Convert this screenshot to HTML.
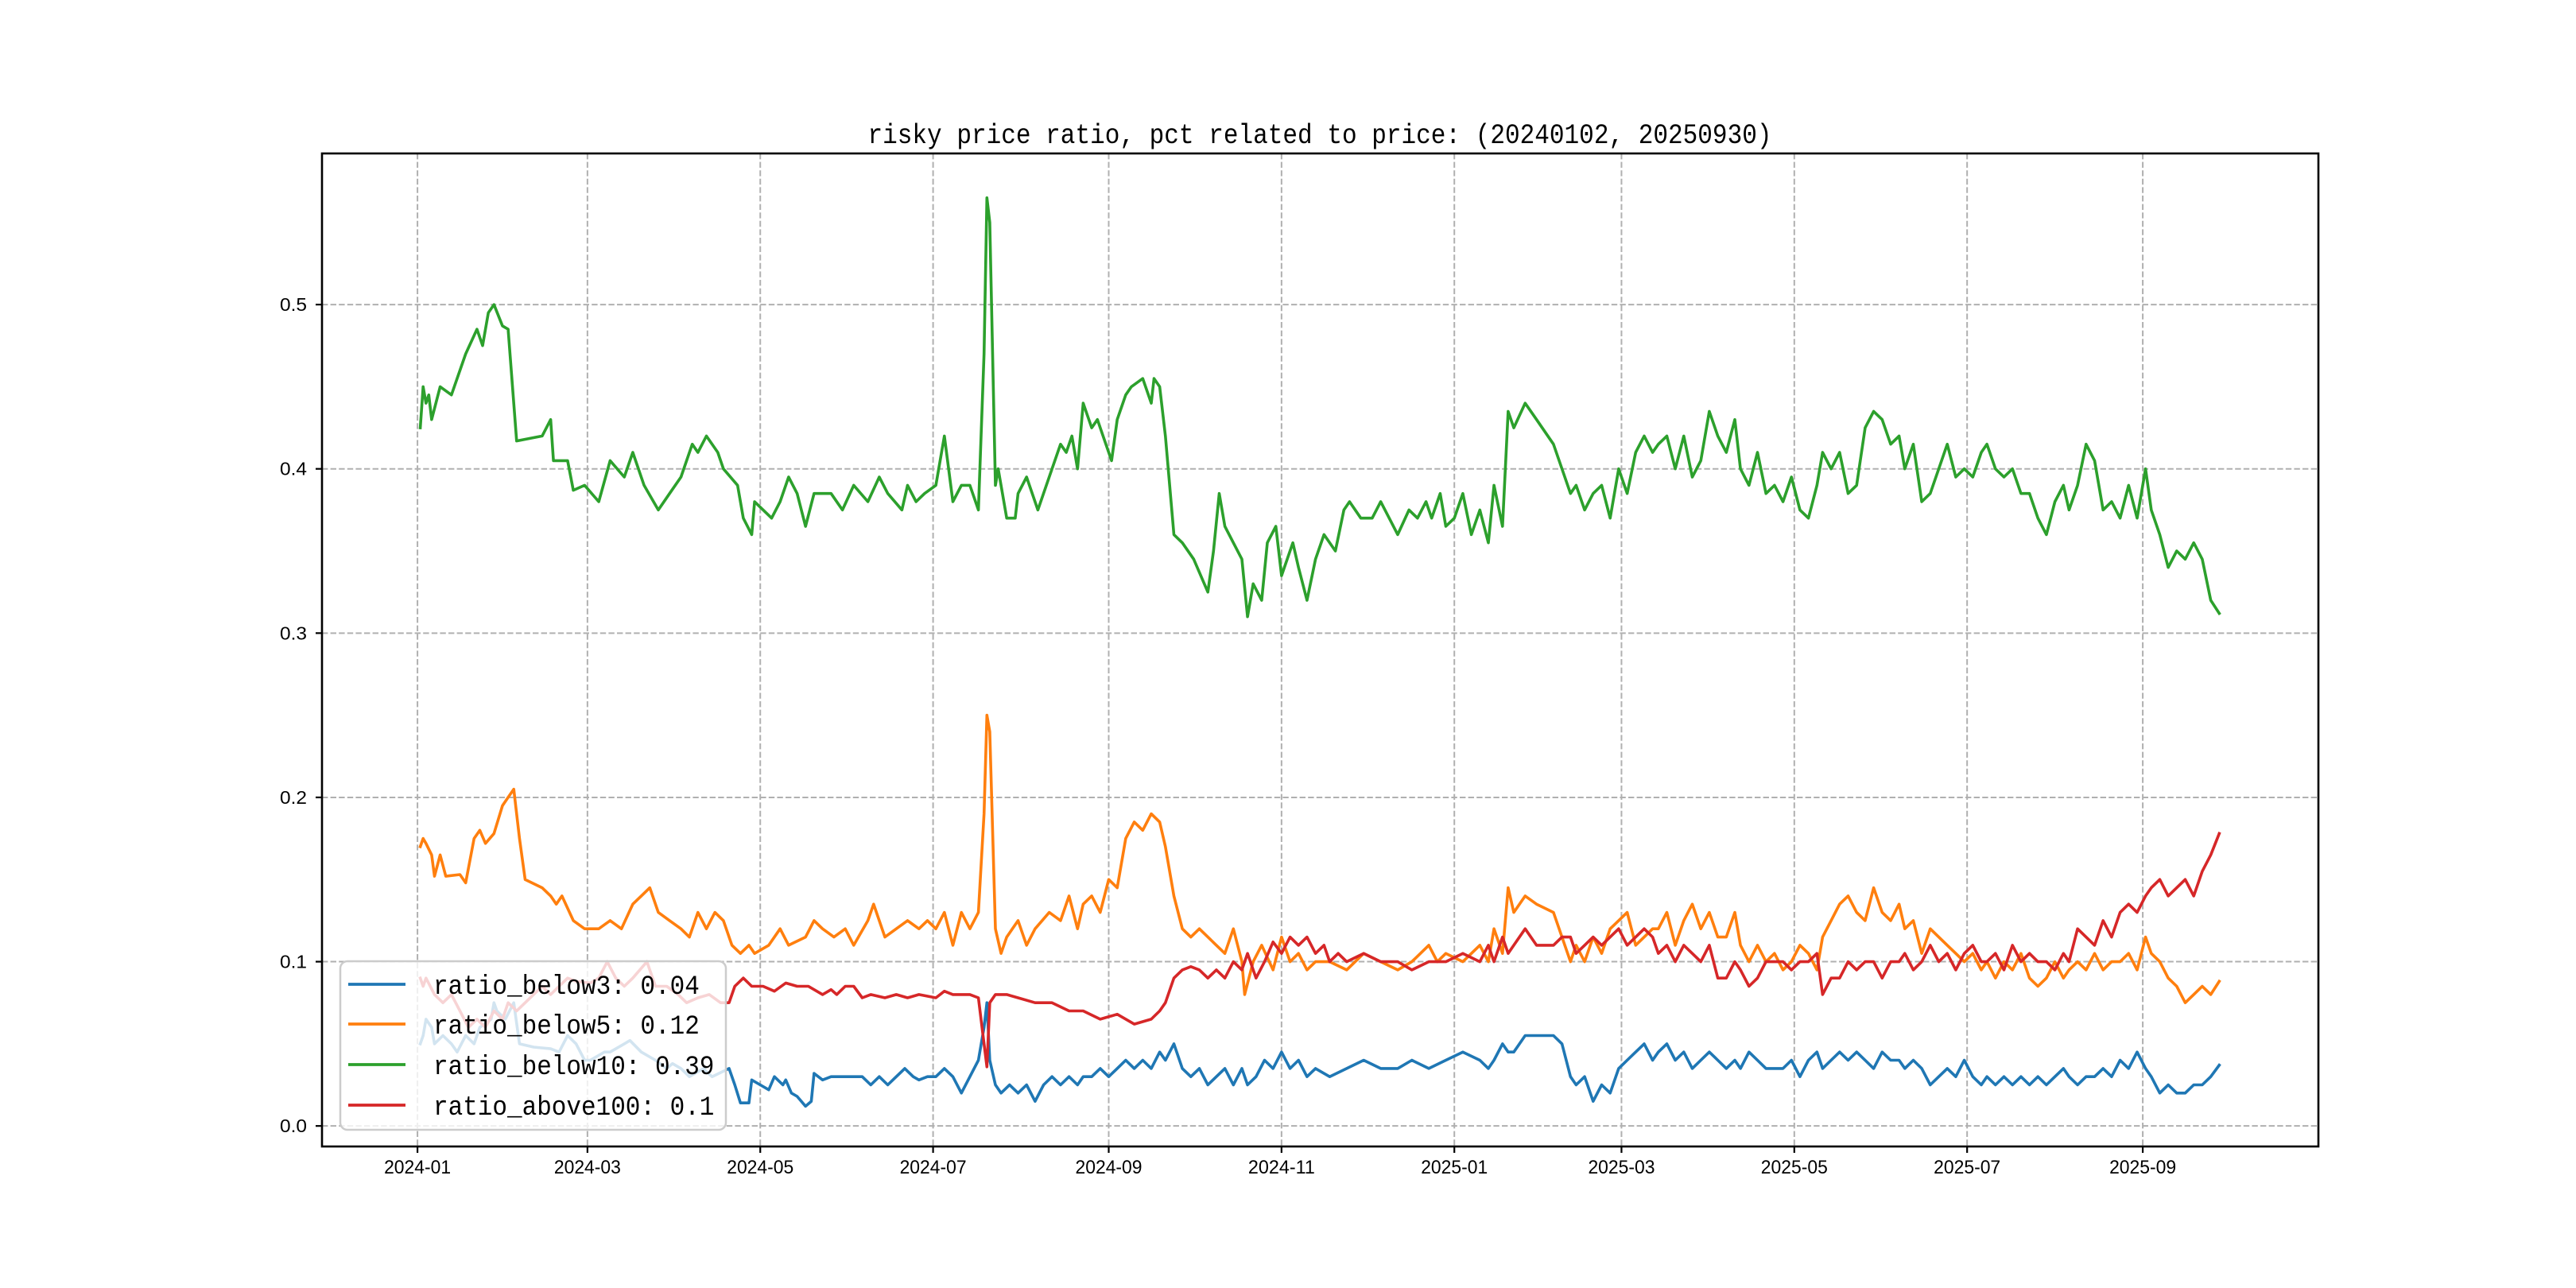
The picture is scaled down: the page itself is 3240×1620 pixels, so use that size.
<!DOCTYPE html>
<html><head><meta charset="utf-8"><title>risky price ratio</title>
<style>html,body{margin:0;padding:0;background:#fff}svg{display:block}</style></head>
<body>
<svg id="chart" xmlns="http://www.w3.org/2000/svg" width="3240" height="1620" viewBox="0 0 3240 1620">
<rect x="0" y="0" width="3240" height="1620" fill="#fff"/>
<g id="grid"></g>
<g id="series"></g>
<rect x="405" y="193" width="2511" height="1249" fill="none" stroke="#000" stroke-width="2.6"/>
<g id="ticks"></g>
<text x="1660" y="180" text-anchor="middle" font-family="Liberation Mono, monospace" font-size="35" textLength="1137" lengthAdjust="spacingAndGlyphs">risky price ratio, pct related to price: (20240102, 20250930)</text>
<g id="legend"></g>
</svg>
<script>
const seriesNames=["ratio_below3: 0.04","ratio_below5: 0.12","ratio_below10: 0.39","ratio_above100: 0.1"];
const seriesColors=["#1f77b4","#ff7f0e","#2ca02c","#d62728"];
const yTicks=[0.0,0.1,0.2,0.3,0.4,0.5];
const yTickLabels=["0.0","0.1","0.2","0.3","0.4","0.5"];
const xTickLabels=["2024-01","2024-03","2024-05","2024-07","2024-09","2024-11","2025-01","2025-03","2025-05","2025-07","2025-09"];
// days since 2024-01-01, shared late grid
const lateDays=[421,424,427,430,433,436,438,441,444,447,450,453,456,459,462,465,467,470,473,476,479,482,485,488,491,494,496,499,502,505,508,511,514,517,520,523,525,528,531,534,537,540,543,546,549,552,554,557,560,563,566,569,572,575,578,581,583,586,589,592,595,598,601,604,607,610,612,615,618,621,624,627,630,633,636];
const greenDays=[1,2,3,4,5,8,12,17,21,23, 25,27,30,32,35,44,47,48,53,55, 59,64,68,73,76,80,85,89,93,97, 99,102,106,108,113,115,118,119,125,128, 131,134,137,140,146,150,154,159,163,166, 171,173,176,179,183,186,189,192,195,198, 200,201,202,204,205,208,211,212,215,219, 224,227,229,231,233,235,238,240,242,245, 247,250,252,256,259,260,262,264,267,270, 274,279,281,283,285,288,291,293,295,298, 300,303,305,309,311,314,317,320,324,327, 329,333,337,340,343,346,350,353,356,358, 361,363,366,369,372,375,378,380,383,385, 387,391,395,401,404,407,409,412,415,418];
const greenEarly=[.425,.45,.44,.445,.43,.45,.445,.47,.485,.475, .495,.50,.487,.485,.417,.42,.43,.405,.405,.387, .39,.38,.405,.395,.41,.39,.375,.385,.395,.415, .41,.42,.41,.40,.39,.37,.36,.38,.37,.38, .395,.385,.365,.385,.385,.375,.39,.38,.395,.385, .375,.39,.38,.385,.39,.42,.38,.39,.39,.375, .47,.565,.55,.39,.40,.37,.37,.385,.395,.375, .40,.415,.41,.42,.40,.44,.425,.43,.42,.405, .43,.445,.45,.455,.44,.455,.45,.42,.36,.355, .345,.325,.35,.385,.365,.355,.345,.31,.33,.32, .355,.365,.335,.355,.34,.32,.345,.36,.35,.375, .38,.37,.37,.38,.37,.36,.375,.37,.38,.37, .385,.365,.37,.385,.36,.375,.355,.39,.365,.435, .425,.44,.43,.415,.40,.385,.39,.375,.385,.39];
const greenLate=[.37,.40,.385,.41,.42,.41,.415,.42,.40,.42, .395,.405,.435,.42,.41,.43,.40,.39,.41,.385, .39,.38,.395,.375,.37,.39,.41,.40,.41,.385, .39,.425,.435,.43,.415,.42,.40,.415,.38,.385, .40,.415,.395,.40,.395,.41,.415,.40,.395,.40, .385,.385,.37,.36,.38,.39,.375,.39,.415,.405, .375,.38,.37,.39,.37,.40,.375,.36,.34,.35, .345,.355,.345,.32,.312];
const orangeDays=[1,2,3,5,6,8,10,15,17,20, 22,24,27,30,32,34,36,38,44,47, 49,51,55,59,64,68,72,76,79,82, 85,89,93,96,99,102,105,108,111,114, 117,119,124,128,131,137,140,143,147,151, 154,159,161,165,169,173,177,180,183,186, 189,192,195,198,200,201,202,204,206,208, 212,215,218,223,227,230,233,235,238,241, 244,247,250,253,256,259,262,264,267,270, 273,276,282,285,288,291,292,295,298,302, 305,308,311,314,317,322,328,334,340,346, 351,357,360,363,369,375,378,380,383,385, 387,391,395,401,404,407,409,412,415,418];
const orangeEarly=[.17,.175,.172,.165,.152,.165,.152,.153,.148,.175, .18,.172,.178,.195,.2,.205,.175,.15,.145,.14, .135,.14,.125,.12,.12,.125,.12,.135,.14,.145, .13,.125,.12,.115,.13,.12,.13,.125,.11,.105, .11,.105,.11,.12,.11,.115,.125,.12,.115,.12, .11,.125,.135,.115,.12,.125,.12,.125,.12,.13, .11,.13,.12,.13,.19,.25,.24,.12,.105,.115, .125,.11,.12,.13,.125,.14,.12,.135,.14,.13, .15,.145,.175,.185,.18,.19,.185,.17,.14,.12, .115,.12,.11,.105,.12,.1,.08,.1,.11,.095, .115,.1,.105,.095,.1,.1,.095,.105,.1,.095, .1,.11,.1,.105,.1,.11,.1,.12,.105,.145, .13,.14,.135,.13,.115,.1,.11,.1,.115,.105];
const orangeLate=[.12,.125,.13,.11,.115,.12,.12,.13,.11,.125, .135,.12,.13,.115,.115,.13,.11,.1,.11,.1, .105,.095,.1,.11,.105,.095,.115,.125,.135,.14, .13,.125,.145,.13,.125,.135,.12,.125,.105,.12, .115,.11,.105,.1,.105,.095,.1,.09,.1,.095, .105,.09,.085,.09,.1,.09,.095,.1,.095,.105, .095,.1,.1,.105,.095,.115,.105,.1,.09,.085, .075,.08,.085,.08,.088];
const redDays=[1,2,3,6,9,12,15,18,21,24, 27,30,32,35,38,44,47,50,53,56, 61,64,67,70,73,76,81,84,88,92, 95,99,103,107,110,112,115,118,122,126, 130,134,138,143,146,148,151,154,157,160, 165,169,173,177,183,186,189,195,198,200, 201,202,204,208,212,218,224,230,235,241, 247,253,259,262,264,267,270,273,276,279, 282,285,288,291,293,296,299,302,305,308, 311,314,317,320,322,325,328,334,340,346, 351,357,363,369,375,378,380,383,385,387, 391,395,401,404,407,409,412,415,418];
const redEarly=[.09,.085,.09,.08,.075,.08,.07,.06,.065,.06, .07,.065,.075,.07,.075,.085,.08,.085,.09,.088, .087,.09,.1,.09,.085,.09,.1,.085,.085,.08, .075,.078,.08,.075,.075,.085,.09,.085,.085,.082, .087,.085,.085,.08,.083,.08,.085,.085,.078,.08, .078,.08,.078,.08,.078,.082,.08,.08,.078,.05, .036,.075,.08,.08,.078,.075,.075,.07,.07,.065, .068,.062,.065,.07,.075,.09,.095,.097,.095,.09, .095,.09,.1,.095,.105,.09,.1,.112,.105,.115, .11,.115,.105,.11,.1,.105,.1,.105,.1,.1, .095,.1,.1,.105,.1,.11,.1,.115,.105,.11, .12,.11,.11,.115,.115,.105,.11,.115,.11];
const redLate=[.115,.12,.11,.115,.12,.115,.105,.11,.1,.11, .105,.1,.11,.09,.09,.1,.095,.085,.09,.1, .1,.1,.095,.1,.1,.105,.08,.09,.09,.1, .095,.1,.1,.09,.1,.1,.105,.095,.1,.11, .1,.105,.095,.105,.11,.1,.1,.105,.095,.11, .1,.105,.1,.1,.095,.105,.1,.12,.115,.11, .125,.115,.13,.135,.13,.14,.145,.15,.14,.145, .15,.14,.155,.165,.178];
const blueDays=[1,2,3,5,6,9,12,14,17,20, 22,26,27,28,31,34,36,41,47,50, 53,56,59,61,66,68,73,75,79,84, 88,90,93,96,99,101,102,104,110,112, 114,117,118,121,124,126,129,130,132,134, 137,139,140,143,146,150,154,157,160,163, 166,169,172,175,177,180,183,186,189,192, 195,198,200,201,202,204,206,209,212,215, 218,221,224,227,230,233,235,238,241,244, 247,250,253,256,259,262,264,267,270,273, 276,279,282,285,288,291,293,296,299,302, 305,308,311,314,317,322,328,334,340,346, 351,357,363,369,375,378,380,383,385,387, 391,395,401,404,407,409,412,415,418];
const blueEarly=[.05,.055,.065,.06,.05,.055,.05,.045,.055,.05, .06,.065,.075,.07,.065,.075,.05,.048,.047,.045, .055,.05,.04,.04,.045,.045,.05,.052,.045,.04, .035,.038,.035,.03,.033,.035,.033,.03,.035,.025, .014,.014,.028,.025,.022,.03,.025,.028,.02,.018, .012,.015,.032,.028,.03,.03,.03,.03,.025,.03, .025,.03,.035,.03,.028,.03,.03,.035,.03,.02, .03,.04,.06,.075,.04,.025,.02,.025,.02,.025, .015,.025,.03,.025,.03,.025,.03,.03,.035,.03, .035,.04,.035,.04,.035,.045,.04,.05,.035,.03, .035,.025,.03,.035,.025,.035,.025,.03,.04,.035, .045,.035,.04,.03,.035,.03,.035,.04,.035,.035, .04,.035,.04,.045,.04,.035,.04,.05,.045,.045, .055,.055,.055,.05,.03,.025,.03,.015,.025];
const blueLate=[.02,.035,.04,.045,.05,.04,.045,.05,.04,.045, .035,.04,.045,.04,.035,.04,.035,.045,.04,.035, .035,.035,.04,.03,.04,.045,.035,.04,.045,.04, .045,.04,.035,.045,.04,.04,.035,.04,.035,.025, .03,.035,.03,.04,.03,.025,.03,.025,.03,.025, .03,.025,.03,.025,.03,.035,.03,.025,.03,.03, .035,.03,.04,.035,.045,.035,.03,.02,.025,.02, .02,.025,.025,.03,.037];

const NS="http://www.w3.org/2000/svg";
const L=405,R=2916,T=193,B=1442;
const dMin=-33.7,dMax=671;
const vMin=-0.0125,vMax=0.592;
function xs(d){return L+(d-dMin)/(dMax-dMin)*(R-L);}
function ys(v){return B-(v-vMin)/(vMax-vMin)*(B-T);}
function dayOf(s){const p=s.split("-");return (Date.UTC(+p[0],+p[1]-1,1)-Date.UTC(2024,0,1))/86400000;}
function mk(tag,attrs,parent){const e=document.createElementNS(NS,tag);for(const k in attrs)e.setAttribute(k,attrs[k]);parent.appendChild(e);return e;}
const grid=document.getElementById("grid"),ticks=document.getElementById("ticks"),sg=document.getElementById("series"),lg=document.getElementById("legend");
xTickLabels.forEach(function(lab){
  const x=xs(dayOf(lab));
  const g=mk("line",{x1:x,x2:x,y1:T,y2:B,stroke:"#b0b0b0","stroke-width":2,"stroke-dasharray":"7.4,3.2"},grid);
  
  
  const t=mk("line",{x1:x,x2:x,y1:B,y2:B+8,stroke:"#000","stroke-width":2.2},ticks);
  
  
  const tx=mk("text",{x:x,y:B+34,"text-anchor":"middle","font-family":"Liberation Sans, sans-serif","font-size":24,textLength:84,lengthAdjust:"spacingAndGlyphs"},ticks);
  tx.textContent=lab;
  
  
});
yTicks.forEach(function(v,i){
  const y=ys(v);
  const g=mk("line",{x1:L,x2:R,y1:y,y2:y,stroke:"#b0b0b0","stroke-width":2,"stroke-dasharray":"7.4,3.2"},grid);
  
  
  const t=mk("line",{x1:L-8,x2:L,y1:y,y2:y,stroke:"#000","stroke-width":2.2},ticks);
  
  
  const tx=mk("text",{x:L-19,y:y+8,"text-anchor":"end","font-family":"Liberation Sans, sans-serif","font-size":23,textLength:34,lengthAdjust:"spacingAndGlyphs"},ticks);
  tx.textContent=yTickLabels[i];
  
  
});
const allDays=[blueDays.concat(lateDays),orangeDays.concat(lateDays),greenDays.concat(lateDays),redDays.concat(lateDays)];
const allVals=[blueEarly.concat(blueLate),orangeEarly.concat(orangeLate),greenEarly.concat(greenLate),redEarly.concat(redLate)];
const lineNames=['line-ratio-below3','line-ratio-below5','line-ratio-below10','line-ratio-above100'];
for(let s=0;s<4;s++){
  const dd=allDays[s],vv=allVals[s],n=Math.min(dd.length,vv.length);
  let p="";
  for(let i=0;i<n;i++)p+=(i?"L":"M")+xs(dd[i]).toFixed(1)+","+ys(vv[i]).toFixed(1);
  const e=mk("path",{d:p,fill:"none",stroke:seriesColors[s],"stroke-width":3.6,"stroke-linejoin":"round","stroke-linecap":"square"},sg);
  
  
}
const box=mk("rect",{x:428,y:1209,width:485,height:212,rx:9,fill:"#fff","fill-opacity":0.8,stroke:"#cccccc","stroke-width":2.5},lg);


const rowsY=[1238,1288,1339,1390];
for(let s=0;s<4;s++){
  const h=mk("line",{x1:438,x2:510,y1:rowsY[s],y2:rowsY[s],stroke:seriesColors[s],"stroke-width":3.8},lg);
  
  
  const t=mk("text",{x:545,y:rowsY[s]+12,"font-family":"Liberation Mono, monospace","font-size":34,textLength:seriesNames[s].length*18.6,lengthAdjust:"spacingAndGlyphs"},lg);
  t.textContent=seriesNames[s];
  
  
}
</script>
</body></html>
